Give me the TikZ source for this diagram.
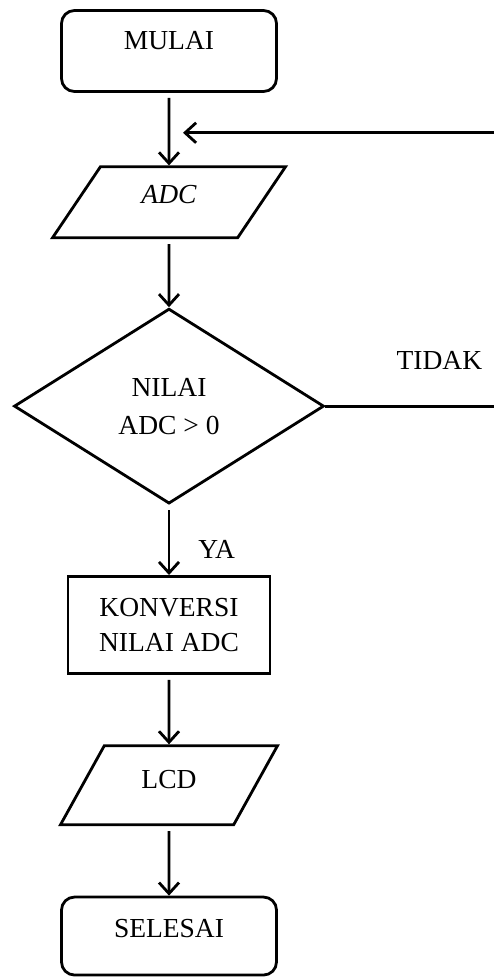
\documentclass[tikz,border=0pt]{standalone}
\usepackage{fontspec}
\setmainfont{Liberation Serif}
\usetikzlibrary{shapes.geometric, arrows.meta, positioning, calc}

\begin{document}
\begin{tikzpicture}[
        x=1pt, y=-1pt,
        every node/.style={font=\fontsize{27.5}{35}\selectfont},
        terminal/.style={rectangle, rounded corners=13pt, draw, line width=2.8pt, minimum width=215pt, minimum height=81pt, text height=20pt, text depth=23pt},
        io/.style={trapezium, trapezium left angle=56, trapezium right angle=124, trapezium stretches body, draw, line width=2.8pt, minimum width=233pt, text height=20pt, text depth=17pt, inner ysep=17pt},
        decision/.style={diamond, draw, line width=2.8pt, minimum width=310pt, minimum height=195pt, inner sep=0pt, align=center},
        process/.style={rectangle, draw, line width=2.8pt, minimum width=202pt, minimum height=97pt, align=center},
        note/.style={inner sep=0pt},
        arrow/.style={line width=2.8pt, -{Straight Barb[length=11pt, width=20pt]}, shorten <=5pt}
    ]
        \path [use as bounding box] (0,0) rectangle (494,978);
        \clip (0,0) rectangle (494,978);

        % Flow steps
        \node (start) [terminal] at (169,51) {MULAI};
        \node (adc) [io, below=72.5pt of start] {\itshape ADC};
        \node (dec) [decision, below=68pt of adc] {NILAI\\[3pt]ADC > 0};
        \node (conv) [process, below=70pt of dec] {KONVERSI\\NILAI ADC};
        \node (lcd) [io, below=69.5pt of conv, minimum width=217pt, trapezium left angle=61, trapezium right angle=119, text depth=13pt, inner ysep=23pt] {LCD};
        \node (stop) [terminal, below=69.5pt of lcd, minimum height=78pt, text depth=17pt] {SELESAI};

        % Arrows
        \draw [arrow] (start) -- (adc);
        \draw [arrow] (adc) -- (dec);
        \draw [arrow] (dec) -- node[note, pos=0.63, right=28pt] {YA} (conv);
        \draw [arrow] (conv) -- (lcd);
        \draw [arrow] (lcd) -- (stop);

        % Loop back when the reading is not positive
        \coordinate (merge) at ($(start.south)!0.55!(adc.north)$);
        \draw [arrow, shorten <=0pt] (dec.east) -- node[note, pos=0.6, above=35pt] {TIDAK} ++(190pt,0) |- ([xshift=14pt]merge);
    \end{tikzpicture}
\end{document}
